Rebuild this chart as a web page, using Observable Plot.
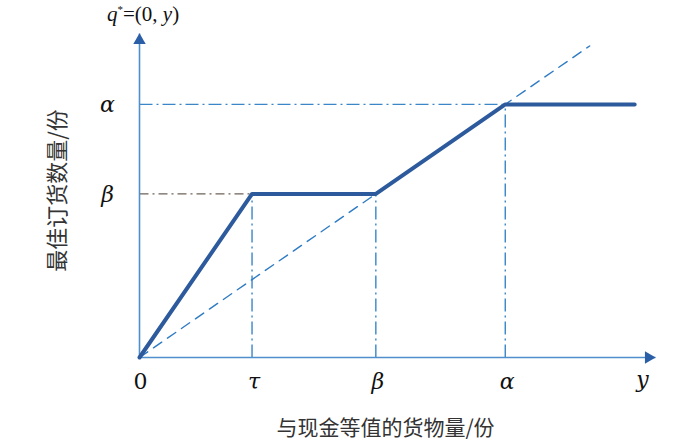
<!DOCTYPE html>
<html>
<head>
<meta charset="utf-8">
<script src="https://cdn.jsdelivr.net/npm/d3@7"></script>
<script src="https://cdn.jsdelivr.net/npm/@observablehq/plot@0.6"></script>
<style>
  body { margin: 0; background: #fff; }
  svg { display: block; }
</style>
</head>
<body>
<div id="chart"></div>
<script>
// Break points of the optimal order policy (arbitrary units)
const tau = 2;
const beta = 4.2;
const alpha = 6.5;

// Extent of the axes and of the drawn curves
const xAxisEnd = 9.17;
const yAxisEnd = 8.32;
const diagonalEnd = 8;
const curveEnd = 8.8;

// Optimal order quantity q* as a function of cash-equivalent goods y
const policyX = [0, tau, beta, alpha, curveEnd];
const policyQ = [0, beta, beta, alpha, alpha];

// Reference diagonal q = y
const diagonalX = [0, diagonalEnd];
const diagonalQ = [0, diagonalEnd];

// Tick labels
const xTickLabels = ["τ", "β", "α"];
const xTickValues = [tau, beta, alpha];
const yTickLabels = ["α", "β"];
const yTickValues = [alpha, beta];

const policy = policyX.map((x, i) => ({x, q: policyQ[i]}));
const diagonal = diagonalX.map((x, i) => ({x, q: diagonalQ[i]}));
const xTicks = xTickLabels.map((label, i) => ({label, x: xTickValues[i]}));
const yTicks = yTickLabels.map((label, i) => ({label, q: yTickValues[i]}));

// Dash-dot guide lines from the break points to the axes
const blueGuides = [
  {x1: 0, y1: alpha, x2: alpha, y2: alpha},
  {x1: tau, y1: 0, x2: tau, y2: beta},
  {x1: beta, y1: 0, x2: beta, y2: beta},
  {x1: alpha, y1: 0, x2: alpha, y2: alpha}
];
const grayGuides = [
  {x1: 0, y1: beta, x2: tau, y2: beta}
];

const axisColor = "#4f8fcc";
const arrowColor = "#2a5ea6";
const guideColor = "#3a86c8";
const curveColor = "#2c5a9c";
const serif = "'DejaVu Serif', 'Liberation Serif', serif";
const cjk = "'Noto Sans CJK SC', sans-serif";

const chart = Plot.plot({
  width: 700,
  height: 441,
  marginLeft: 139,
  marginRight: 45,
  marginTop: 33,
  marginBottom: 84,
  x: {domain: [0, xAxisEnd], axis: null},
  y: {domain: [0, yAxisEnd], axis: null},
  style: {background: "#fff", overflow: "visible"},
  marks: [
    Plot.link(blueGuides, {x1: "x1", y1: "y1", x2: "x2", y2: "y2",
      stroke: guideColor, strokeWidth: 1.4, strokeDasharray: "13,4,2,4"}),
    Plot.link(grayGuides, {x1: "x1", y1: "y1", x2: "x2", y2: "y2",
      stroke: "#6e625a", strokeWidth: 1.3, strokeDasharray: "9,4,2,4"}),
    Plot.line(diagonal, {x: "x", y: "q", stroke: "#2f7bc3",
      strokeWidth: 1.4, strokeDasharray: "10,7"}),
    // axes
    Plot.link([{x1: 0, y1: 0, x2: xAxisEnd, y2: 0}], {x1: "x1", y1: "y1", x2: "x2", y2: "y2",
      stroke: axisColor, strokeWidth: 1.6}),
    Plot.link([{x1: 0, y1: 0, x2: 0, y2: yAxisEnd}], {x1: "x1", y1: "y1", x2: "x2", y2: "y2",
      stroke: axisColor, strokeWidth: 1.6}),
    Plot.dot([{x: xAxisEnd, q: 0}], {x: "x", y: "q", symbol: "triangle", r: 4.6,
      rotate: 90, dx: -7, fill: arrowColor, stroke: "none"}),
    Plot.dot([{x: 0, q: yAxisEnd}], {x: "x", y: "q", symbol: "triangle", r: 4.6,
      dy: 7, fill: arrowColor, stroke: "none"}),
    // optimal order policy
    Plot.line(policy, {x: "x", y: "q", stroke: curveColor, strokeWidth: 4,
      strokeLinejoin: "round", strokeLinecap: "round"}),
    // tick labels
    Plot.text(["0"], {x: () => 0, y: () => 0, text: d => d, dx: 1, dy: 24,
      fontSize: 22, fontFamily: serif, fill: "#111"}),
    Plot.text(xTicks, {x: "x", y: () => 0, text: "label", dx: 2, dy: 24,
      fontSize: 22, fontFamily: serif, fontStyle: "italic", fill: "#111"}),
    Plot.text(["y"], {x: () => xAxisEnd, y: () => 0, text: d => d, dx: -13, dy: 22,
      fontSize: 22, fontFamily: serif, fontStyle: "italic", fill: "#111"}),
    Plot.text(yTicks, {x: () => 0, y: "q", text: "label", dx: -32, dy: 1,
      fontSize: 22, fontFamily: serif, fontStyle: "italic", fill: "#111"}),
    // axis titles
    Plot.text(["最佳订货数量/份"], {frameAnchor: "left", text: d => d, rotate: -90,
      textAnchor: "middle", lineAnchor: "middle",
      dx: -82, dy: -5, fontSize: 22, fontFamily: cjk, fill: "#333"}),
    Plot.text(["与现金等值的货物量/份"], {frameAnchor: "bottom", text: d => d,
      textAnchor: "middle", lineAnchor: "middle",
      dx: -12, dy: 71, fontSize: 21, fontFamily: cjk, fill: "#333"})
  ]
});

// Function label above the vertical axis: q*=(0, y)
const svg = d3.select(chart);
const label = svg.append("text")
  .attr("x", 107).attr("y", 21).attr("text-anchor", "start")
  .attr("font-family", "'Liberation Serif', serif").attr("font-size", 21).attr("fill", "#111");
label.append("tspan").attr("font-style", "italic").text("q");
label.append("tspan").attr("font-size", 11).attr("dy", -8).text("*");
label.append("tspan").attr("dy", 8).text("=(0, ");
label.append("tspan").attr("font-style", "italic").text("y");
label.append("tspan").text(")");

document.getElementById("chart").appendChild(chart);
</script>
</body>
</html>
